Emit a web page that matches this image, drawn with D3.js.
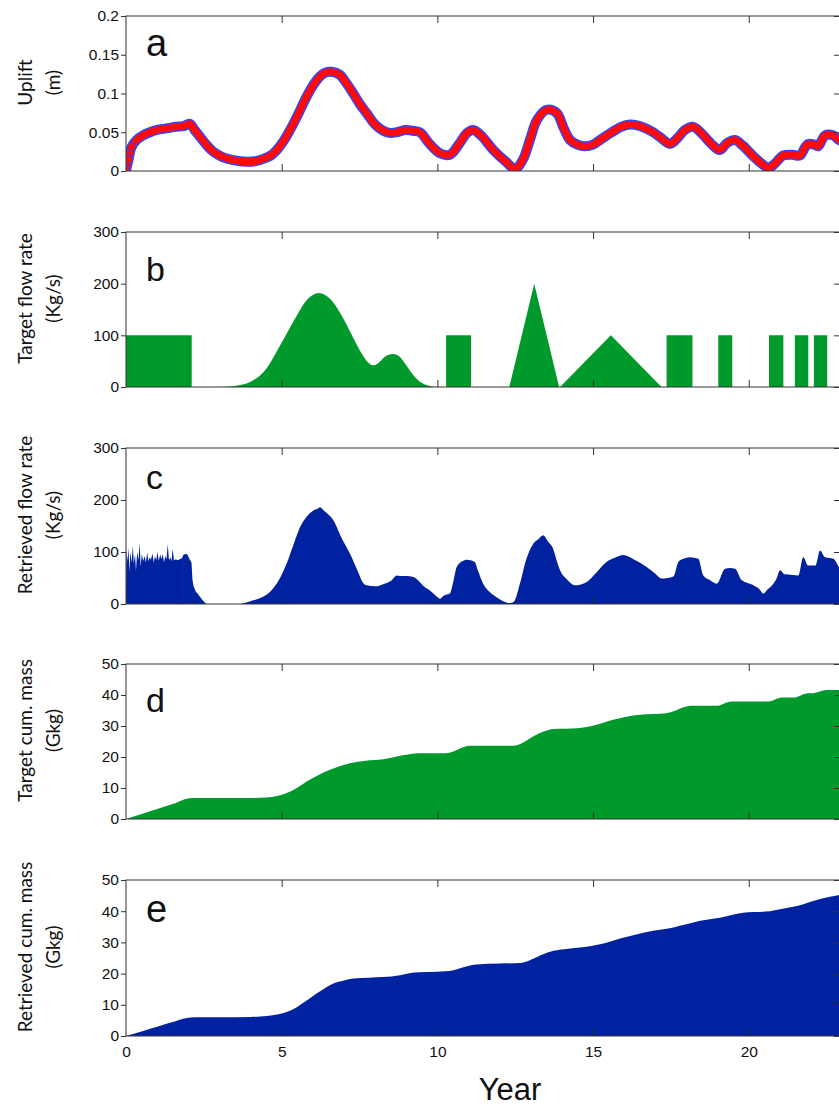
<!DOCTYPE html>
<html>
<head>
<meta charset="utf-8">
<script src="https://cdn.jsdelivr.net/npm/d3@7"></script>
<style>
  html, body { margin: 0; padding: 0; background: #fff; }
  svg { display: block; }
  .tick text { font-family: "Liberation Sans", Arial, sans-serif; font-size: 15.5px; fill: #111; }
  .domain { display: none; }
  .tick line { stroke: #333; stroke-width: 1; }
</style>
</head>
<body>
<script>
// Time axis (years)
const xTicks = [0, 5, 10, 15, 20];
const xMax = 22.93;

// (a) surface uplift, metres: [year, uplift]
const uplift = [[0,0],[0.08,0.015],[0.18,0.031],[0.34,0.04],[0.55,0.046],[0.77,0.05],[1.0,0.053],[1.3,0.055],[1.6,0.057],[1.85,0.058],[2.05,0.061],[2.2,0.053],[2.38,0.044],[2.6,0.033],[2.8,0.025],[3.1,0.018],[3.44,0.014],[3.87,0.012],[4.2,0.013],[4.4,0.0155],[4.65,0.02],[4.84,0.027],[5.05,0.038],[5.27,0.053],[5.55,0.075],[5.8,0.096],[6.05,0.113],[6.23,0.122],[6.4,0.127],[6.6,0.128],[6.87,0.124],[7.05,0.115],[7.3,0.1],[7.5,0.087],[7.73,0.0745],[8.0,0.06],[8.26,0.052],[8.5,0.049],[8.7,0.05],[8.96,0.053],[9.2,0.052],[9.44,0.05],[9.75,0.035],[10.08,0.023],[10.4,0.021],[10.7,0.035],[10.95,0.049],[11.15,0.053],[11.4,0.046],[11.8,0.027],[12.2,0.012],[12.5,0.003],[12.75,0.015],[12.97,0.04],[13.2,0.066],[13.51,0.079],[13.83,0.075],[14.05,0.056],[14.26,0.04],[14.5,0.034],[14.74,0.032],[15.0,0.034],[15.22,0.04],[15.6,0.05],[15.9,0.057],[16.19,0.06],[16.5,0.058],[16.93,0.05],[17.2,0.042],[17.47,0.035],[17.7,0.042],[17.95,0.053],[18.22,0.057],[18.5,0.048],[18.8,0.035],[19.07,0.027],[19.3,0.036],[19.56,0.04],[19.8,0.033],[20.15,0.019],[20.4,0.01],[20.63,0.004],[20.85,0.01],[21.1,0.02],[21.4,0.021],[21.64,0.02],[21.8,0.03],[21.91,0.035],[22.1,0.034],[22.23,0.032],[22.35,0.04],[22.45,0.046],[22.7,0.046],[22.9,0.04],[23,0.038]];
const upliftTicks = [0, 0.05, 0.1, 0.15, 0.2];

// (b) target flow rate, kg/s: smooth pulse and piecewise-linear pulses
const targetSmooth = [[3.0,0],[3.5,2],[4.0,10],[4.5,35],[5.0,86],[5.5,140],[5.8,168],[6.0,178],[6.18,182],[6.4,178],[6.7,160],[7.0,130],[7.3,95],[7.6,62],[7.8,46],[7.94,42],[8.1,46],[8.3,58],[8.58,64],[8.8,58],[9.0,42],[9.2,25],[9.4,12],[9.6,5],[9.8,1.5],[10.0,0]];
const targetBlocks = [[0,100],[2.11,100],[2.11,0],[10.28,0],[10.28,100],[11.08,100],[11.08,0],[12.31,0],[13.11,200],[13.91,0],[13.94,0],[15.57,100],[17.2,0],[17.36,0],[17.36,100],[18.19,100],[18.19,0],[19.02,0],[19.02,100],[19.47,100],[19.47,0],[20.65,0],[20.65,100],[21.11,100],[21.11,0],[21.48,0],[21.48,100],[21.91,100],[21.91,0],[22.09,0],[22.09,100],[22.52,100],[22.52,0],[23,0]];
const flowTicks = [0, 100, 200, 300];

// (c) retrieved flow rate, kg/s: noisy early record, then smoother response
const flowNoisy = [[0,0],[0.01,105],[0.05,82],[0.08,108],[0.11,62],[0.14,100],[0.18,80],[0.22,112],[0.25,78],[0.29,95],[0.32,64],[0.36,100],[0.4,84],[0.44,118],[0.47,72],[0.51,96],[0.55,83],[0.6,92],[0.64,80],[0.68,99],[0.72,82],[0.76,90],[0.8,85],[0.85,97],[0.89,80],[0.93,92],[0.97,84],[1.01,100],[1.05,83],[1.1,95],[1.14,86],[1.18,96],[1.22,80],[1.26,92],[1.3,86],[1.34,115],[1.38,84],[1.42,90],[1.46,82],[1.5,106],[1.54,84],[1.6,86],[1.66,84],[1.72,86],[1.8,88]];
const flowRetrieved = [[1.8,88],[1.86,95],[1.92,96],[1.98,94],[2.04,86],[2.1,80],[2.14,45],[2.2,30],[2.3,20],[2.4,12],[2.5,5],[2.6,0],[3.66,0],[3.8,2],[4.09,7],[4.4,14],[4.62,23],[4.9,45],[5.16,78],[5.4,118],[5.59,148],[5.8,168],[6.02,180],[6.15,183],[6.23,186],[6.35,180],[6.5,172],[6.66,161],[6.9,130],[7.19,97],[7.45,62],[7.6,42],[7.73,36],[8.0,34],[8.26,38],[8.5,44],[8.7,55],[8.8,54],[9.0,54],[9.23,52],[9.44,42],[9.6,32],[9.76,26],[9.95,16],[10.08,10],[10.2,16],[10.4,20],[10.5,40],[10.62,71],[10.8,82],[10.94,85],[11.2,81],[11.3,65],[11.47,39],[11.7,22],[11.9,13],[12.1,6],[12.33,2],[12.45,4],[12.65,39],[12.85,85],[13.08,116],[13.25,125],[13.4,132],[13.55,120],[13.72,106],[13.85,80],[13.94,65],[14.15,48],[14.42,36],[14.79,42],[15.1,60],[15.43,81],[15.7,89],[15.97,94],[16.3,86],[16.72,71],[17.0,58],[17.2,49],[17.58,53],[17.74,81],[17.9,87],[18.11,90],[18.38,87],[18.54,55],[18.75,46],[18.97,39],[19.24,68],[19.4,69],[19.56,68],[19.77,46],[20.15,36],[20.35,28],[20.47,20],[20.6,28],[20.79,39],[20.9,50],[21.0,65],[21.16,57],[21.4,56],[21.59,55],[21.75,90],[21.91,74],[22.14,74],[22.29,103],[22.45,90],[22.72,87],[22.9,71],[23,65]];

// (d) target cumulative mass, Gkg
const massTarget = [[0,0],[0.5,1.6],[1.0,3.2],[1.5,4.85],[2.11,6.8],[3.0,6.8],[4.0,6.8],[4.52,6.9],[4.85,7.4],[5.16,8.4],[5.5,10.1],[5.8,12.1],[6.2,14.3],[6.55,15.9],[6.9,17.2],[7.19,18.0],[7.7,18.8],[8.26,19.3],[8.6,19.9],[8.8,20.4],[9.1,20.9],[9.41,21.2],[10.28,21.2],[11.05,23.6],[12.44,23.6],[12.76,24.7],[13.1,26.8],[13.41,28.2],[13.73,29.0],[14.48,29.3],[15.11,30.4],[15.5,31.6],[15.86,32.5],[16.2,33.2],[16.51,33.6],[17.36,34.1],[18.16,36.5],[18.96,36.5],[19.44,37.9],[20.63,37.9],[21.06,39.2],[21.43,39.2],[21.91,40.6],[22.07,40.6],[22.5,41.6],[23,41.6]];

// (e) retrieved cumulative mass, Gkg
const massRetrieved = [[0,0],[0.5,1.45],[1.0,2.95],[1.5,4.45],[1.95,5.8],[2.2,6.0],[3.0,6.0],[4.0,6.1],[4.52,6.4],[4.9,7.0],[5.16,7.7],[5.4,8.7],[5.59,9.9],[5.85,11.7],[6.12,13.6],[6.4,15.4],[6.66,16.8],[7.0,17.8],[7.3,18.4],[7.8,18.7],[8.26,18.9],[8.8,19.5],[9.1,20.1],[9.41,20.4],[10.0,20.6],[10.51,21.1],[10.9,22.2],[11.26,22.9],[12.0,23.2],[12.65,23.4],[12.97,24.3],[13.3,25.8],[13.73,27.3],[14.2,28.0],[14.79,28.6],[15.1,29.2],[15.43,29.9],[15.9,31.3],[16.29,32.3],[16.93,33.7],[17.58,34.8],[18.0,35.8],[18.44,36.9],[19.07,37.9],[19.82,39.5],[20.68,40.0],[21.0,40.6],[21.43,41.4],[21.8,42.4],[22.18,43.6],[22.6,44.6],[22.9,45.2],[23,45.4]];
const massTicks = [0, 10, 20, 30, 40, 50];

const W = 839, H = 1107;
const GREEN = "#00992b", BLUE = "#0021a0";

const svg = d3.select("body").append("svg").attr("width", W).attr("height", H);

const x = d3.scaleLinear().domain([0, xMax]).range([126, 840]);

const panels = [
  { key: "a", top: 16,  bottom: 171,  ticks: upliftTicks, fmt: d => d === 0 ? "0" : String(d), title: ["Uplift", "(m)"], letterSize: 38, letterY: 56 },
  { key: "b", top: 232, bottom: 387,  ticks: flowTicks, fmt: String, title: ["Target flow rate", "(Kg/s)"], letterSize: 34, letterY: 281 },
  { key: "c", top: 448, bottom: 604,  ticks: flowTicks, fmt: String, title: ["Retrieved flow rate", "(Kg/s)"], letterSize: 34, letterY: 489 },
  { key: "d", top: 664, bottom: 819,  ticks: massTicks, fmt: String, title: ["Target cum. mass", "(Gkg)"], letterSize: 34, letterY: 712 },
  { key: "e", top: 880, bottom: 1036, ticks: massTicks, fmt: String, title: ["Retrieved cum. mass", "(Gkg)"], letterSize: 38, letterY: 922 }
];

panels.forEach((p, i) => {
  const y = d3.scaleLinear().domain([0, d3.max(p.ticks)]).range([p.bottom, p.top]);
  const g = svg.append("g");

  svg.append("clipPath").attr("id", "clip-" + p.key)
    .append("rect").attr("x", x(0)).attr("y", p.top).attr("width", x(xMax) - x(0)).attr("height", p.bottom - p.top);
  const plot = g.append("g").attr("clip-path", `url(#clip-${p.key})`);

  const area = curve => d3.area().x(d => x(d[0])).y0(y(0)).y1(d => y(d[1])).curve(curve);

  if (p.key === "a") {
    const line = d3.line().x(d => x(d[0])).y(d => y(d[1])).curve(d3.curveCatmullRom.alpha(0.5));
    plot.append("path").datum(uplift).attr("d", line)
      .attr("fill", "none").attr("stroke", "#3046ff").attr("stroke-width", 10).attr("stroke-linejoin", "round");
    plot.append("path").datum(uplift).attr("d", line)
      .attr("fill", "none").attr("stroke", "#ff0a0a").attr("stroke-width", 7).attr("stroke-linejoin", "round");
    plot.selectAll("circle").data(uplift.slice(0, 3)).join("circle")
      .attr("cx", d => x(d[0])).attr("cy", d => y(d[1])).attr("r", 4.3)
      .attr("fill", "none").attr("stroke", "#3046ff").attr("stroke-width", 1.2);
  } else if (p.key === "b") {
    plot.append("path").datum(targetSmooth).attr("d", area(d3.curveMonotoneX)).attr("fill", GREEN);
    plot.append("path").datum(targetBlocks).attr("d", area(d3.curveLinear)).attr("fill", GREEN);
  } else if (p.key === "c") {
    plot.append("path").datum(flowNoisy).attr("d", area(d3.curveLinear)).attr("fill", BLUE);
    plot.append("path").datum(flowRetrieved).attr("d", area(d3.curveMonotoneX)).attr("fill", BLUE);
  } else if (p.key === "d") {
    plot.append("path").datum(massTarget).attr("d", area(d3.curveMonotoneX)).attr("fill", GREEN);
  } else {
    plot.append("path").datum(massRetrieved).attr("d", area(d3.curveMonotoneX)).attr("fill", BLUE);
  }

  // frame
  g.append("rect").attr("x", x(0)).attr("y", p.top).attr("width", x(xMax) - x(0)).attr("height", p.bottom - p.top)
    .attr("fill", "none").attr("stroke", "#333").attr("stroke-width", 1);

  // left axis: labelled, ticks outward
  g.append("g").attr("transform", `translate(${x(0)},0)`)
    .call(d3.axisLeft(y).tickValues(p.ticks).tickFormat(p.fmt).tickSize(5).tickPadding(2));
  // right axis: ticks inward
  g.append("g").attr("transform", `translate(${x(xMax)},0)`)
    .call(d3.axisRight(y).tickValues(p.ticks).tickFormat("").tickSize(-6));
  // top axis: ticks inward
  g.append("g").attr("transform", `translate(0,${p.top})`)
    .call(d3.axisTop(x).tickValues(xTicks.slice(1)).tickFormat("").tickSize(-7));
  // bottom axis: ticks inward, labels on the last panel only
  const bottomAxis = d3.axisBottom(x).tickValues(i === panels.length - 1 ? xTicks : xTicks.slice(1)).tickSize(-7).tickPadding(10);
  if (i !== panels.length - 1) bottomAxis.tickFormat("");
  const bg = g.append("g").attr("transform", `translate(0,${p.bottom})`).call(bottomAxis);
  bg.selectAll(".tick").filter(d => d === 0).select("line").remove();

  // panel letter
  g.append("text").attr("x", 146).attr("y", p.letterY)
    .attr("font-family", "Liberation Sans, Arial, sans-serif").attr("font-size", p.letterSize)
    .attr("fill", "#111").text(p.key);

  // y-axis title, two rotated lines
  const cy = (p.top + p.bottom) / 2 - 11;
  p.title.forEach((t, j) => {
    svg.append("text")
      .attr("transform", `translate(${j === 0 ? 24 : 52},${cy}) rotate(-90)`)
      .attr("text-anchor", "middle").attr("dominant-baseline", "central")
      .attr("font-family", "Lato, sans-serif").attr("font-size", 19).attr("fill", "#111")
      .text(t);
  });
});

svg.append("text").attr("x", 510).attr("y", 1100).attr("text-anchor", "middle")
  .attr("font-family", "Liberation Sans, Arial, sans-serif").attr("font-size", 31).attr("fill", "#111")
  .text("Year");
</script>
</body>
</html>
